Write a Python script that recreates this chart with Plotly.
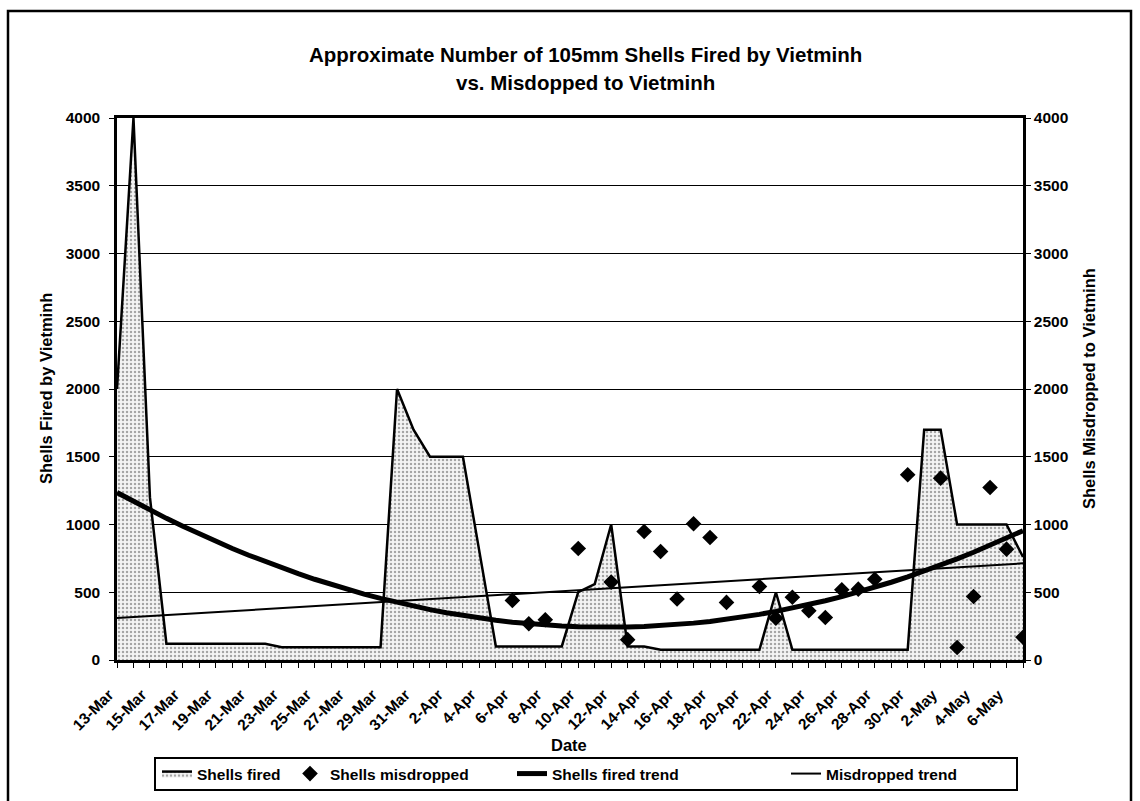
import numpy as np
import pandas as pd
import plotly.graph_objects as go

# ---- data ----
dates = pd.date_range("1954-03-13", "1954-05-07", freq="D")

shells_fired = [
    2000, 4000, 1200, 120, 120, 120, 120, 120, 120, 120,   # 13-22 Mar
    95, 95, 95, 95, 95, 95, 95,                          # 23-29 Mar
    2000, 1700, 1500, 1500, 1500, 800, 100,              # 30 Mar - 5 Apr
    100, 100, 100, 100, 500, 560, 1000, 100, 100,        # 6-14 Apr
    75, 75, 75, 75, 75, 75, 75,                          # 15-21 Apr
    500,                                                 # 22 Apr
    75, 75, 75, 75, 75, 75, 75, 75,                      # 23-30 Apr
    1700, 1700, 1000, 1000, 1000, 1000, 760,             # 1-7 May
]

misdrop_days = [
    "1954-04-06", "1954-04-07", "1954-04-08", "1954-04-10", "1954-04-12",
    "1954-04-13", "1954-04-14", "1954-04-15", "1954-04-16", "1954-04-17",
    "1954-04-18", "1954-04-19", "1954-04-21", "1954-04-22", "1954-04-23",
    "1954-04-24", "1954-04-25", "1954-04-26", "1954-04-27", "1954-04-28",
    "1954-04-30", "1954-05-02", "1954-05-03", "1954-05-04", "1954-05-05",
    "1954-05-06", "1954-05-07",
]
misdrop_values = [
    440, 268, 297, 823, 575,
    150, 948, 801, 450, 1005,
    904, 425, 542, 308, 463,
    363, 314, 518, 523, 596,
    1367, 1342, 92, 469, 1273,
    818, 168,
]

# ---- trendlines (as Excel: fit on category index) ----
idx = np.arange(len(dates))
fired_coef = np.polyfit(idx, shells_fired, 2)
fired_trend = np.polyval(fired_coef, idx)

md_idx = np.array([(pd.Timestamp(d) - dates[0]).days for d in misdrop_days])
md_coef = np.polyfit(md_idx, misdrop_values, 1)
md_trend = np.polyval(md_coef, idx)

FONT = "Liberation Sans, Arial, sans-serif"

# plot-area geometry in pixels
L, R, T, B = 117, 1023, 118, 660
W, H = R - L, B - T


def px(x):
    return (x - L) / W


def py(y):
    return (B - y) / H


fig = go.Figure()
fig.add_trace(go.Scatter(
    x=dates, y=shells_fired, name="Shells fired", mode="lines",
    line=dict(color="black", width=2.5),
    fill="tozeroy",
    fillpattern=dict(shape=".", fgcolor="#555555", bgcolor="#f4f4f4", size=4, solidity=0.3),
    legend="legend",
))
fig.add_trace(go.Scatter(
    x=pd.to_datetime(misdrop_days), y=misdrop_values, name="Shells misdropped",
    mode="markers", yaxis="y2",
    marker=dict(symbol="diamond", size=12, color="black"),
    legend="legend2",
))
fig.add_trace(go.Scatter(
    x=dates, y=fired_trend, name="Shells fired trend", mode="lines",
    line=dict(color="black", width=5),
    legend="legend3",
))
fig.add_trace(go.Scatter(
    x=dates, y=md_trend, name="Misdropped trend", mode="lines", yaxis="y2",
    line=dict(color="black", width=2),
    legend="legend4",
))

tickfont = dict(family=FONT, size=15.5, color="black", weight="bold")
titlefont = dict(family=FONT, size=20.5, color="black", weight="bold")
axfont = dict(family=FONT, size=16.5, color="black", weight="bold")
legfont = dict(family=FONT, size=15.5, color="black", weight="bold")

LEG_Y = py(774)


def leg(xpix):
    return dict(orientation="h", x=px(xpix), xanchor="left", y=LEG_Y, yanchor="middle",
                bgcolor="rgba(0,0,0,0)", borderwidth=0, font=legfont)


fig.update_layout(
    width=1140, height=801,
    paper_bgcolor="white", plot_bgcolor="white",
    margin=dict(l=L, r=1140 - R, t=T, b=801 - B, autoexpand=False),
    showlegend=True,
    xaxis=dict(
        type="date", range=[dates[0], dates[-1]],
        tick0="1954-03-13", dtick=2 * 86400000, tickformat="%-d-%b",
        tickangle=-45, ticks="outside", ticklen=5, tickcolor="black",
        minor=dict(dtick=86400000, ticks="outside", ticklen=5, tickcolor="black"),
        showline=True, linewidth=2.5, linecolor="black", mirror=True,
        showgrid=False, zeroline=False, tickfont=tickfont, automargin=False,
        ticklabelstandoff=12, ticklabelshift=-8,
    ),
    yaxis=dict(
        range=[0, 4000], dtick=500, ticks="outside", ticklen=5, tickcolor="black",
        showline=True, linewidth=2.5, linecolor="black",
        showgrid=True, gridcolor="black", gridwidth=1.2, zeroline=False,
        tickfont=tickfont, automargin=False, ticklabelstandoff=6,
    ),
    yaxis2=dict(
        range=[0, 4000], dtick=500, overlaying="y", side="right",
        ticks="outside", ticklen=5, tickcolor="black",
        showline=True, linewidth=2.5, linecolor="black",
        showgrid=False, zeroline=False, tickfont=tickfont, automargin=False,
    ),
    legend=leg(157),
    legend2=leg(290),
    legend3=leg(512),
    legend4=leg(786),
    annotations=[
        dict(text="Approximate Number of 105mm Shells Fired by Vietminh",
             x=px(585), y=py(55), xref="paper", yref="paper", showarrow=False,
             xanchor="center", yanchor="middle", font=titlefont),
        dict(text="vs. Misdopped to Vietminh",
             x=px(585), y=py(82), xref="paper", yref="paper", showarrow=False,
             xanchor="center", yanchor="middle", font=titlefont),
        dict(text="Date", x=px(569), y=py(745), xref="paper", yref="paper",
             showarrow=False, xanchor="center", yanchor="middle", font=axfont),
        dict(text="Shells Fired by Vietminh", x=px(46), y=0.5, xref="paper", yref="paper",
             textangle=-90, showarrow=False, xanchor="center", yanchor="middle", font=axfont),
        dict(text="Shells Misdropped to Vietminh", x=px(1089), y=0.5, xref="paper", yref="paper",
             textangle=-90, showarrow=False, xanchor="center", yanchor="middle", font=axfont),
    ],
    shapes=[
        dict(type="rect", xref="paper", yref="paper",
             x0=px(8), x1=px(1131), y0=py(806), y1=py(11),
             line=dict(color="black", width=2.5)),
        dict(type="rect", xref="paper", yref="paper",
             x0=px(155), x1=px(1017), y0=py(790), y1=py(758),
             line=dict(color="black", width=2)),
    ],
)

fig.write_html("out.html", config={"displayModeBar": False},
               post_script="document.body.style.margin='0px';")
